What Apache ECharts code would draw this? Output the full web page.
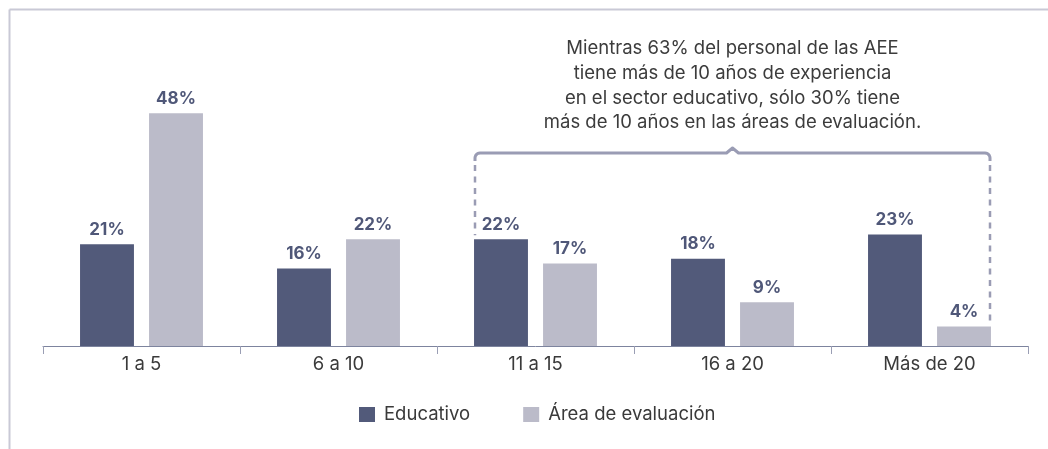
<!DOCTYPE html>
<html>
<head>
<meta charset="utf-8">
<script src="https://cdn.jsdelivr.net/npm/echarts@6/dist/echarts.min.js"></script>
<style>
html,body{margin:0;padding:0;background:#fff;}
#c{width:1048px;height:449px;}
</style>
</head>
<body>
<div id="c"></div>
<script>
const categories = ["1 a 5", "6 a 10", "11 a 15", "16 a 20", "Más de 20"];
const educativo = [21, 16, 22, 18, 23];
const areaEvaluacion = [48, 22, 17, 9, 4];
const seriesNames = ["Educativo", "Área de evaluación"];
const noteLines = [
  "Mientras 63% del personal de las AEE",
  "tiene más de 10 años de experiencia",
  "en el sector educativo, sólo 30% tiene",
  "más de 10 años en las áreas de evaluación."
];
const braceFrom = 2; // category index where the brace starts (Educativo bar)
const braceTo = 4;   // category index where the brace ends (Área bar)

const FONT = "Inter";
const chart = echarts.init(document.getElementById('c'), null, {renderer: 'canvas'});

const labelCfg = {
  show: true, position: 'top', distance: 6,
  formatter: '{c}%', fontFamily: FONT, fontWeight: 'bold', fontSize: 17, color: '#4f5778'
};

chart.setOption({
  animation: false,
  textStyle: {fontFamily: FONT},
  grid: {left: 43, right: 20, top: 55, bottom: 103},
  xAxis: {
    type: 'category', data: categories,
    axisLine: {lineStyle: {color: '#7d849e', width: 1}},
    axisTick: {show: true, length: 8, lineStyle: {color: '#9a9eb4'}},
    axisLabel: {fontFamily: FONT, fontSize: 18.5, color: '#3a3a3a', margin: 9}
  },
  yAxis: {type: 'value', min: 0, max: 60, show: false, splitLine: {show: false}},
  legend: {
    data: seriesNames, left: 354, top: 400,
    itemWidth: 16, itemHeight: 15, itemGap: 53,
    icon: 'rect',
    textStyle: {fontFamily: FONT, fontSize: 18.5, color: '#3a3a3a', padding: [0, 0, 0, 4]}
  },
  series: [
    {name: seriesNames[0], type: 'bar', data: educativo, barGap: '28%', barCategoryGap: '37.6%',
     itemStyle: {color: '#525a7a'}, label: labelCfg},
    {name: seriesNames[1], type: 'bar', data: areaEvaluacion,
     itemStyle: {color: '#bbbbc9'}, label: labelCfg}
  ]
});

function corner(cx, cy, r, a0, a1) {
  const pts = [];
  for (let i = 0; i <= 6; i++) {
    const a = a0 + (a1 - a0) * i / 6;
    pts.push([cx + r * Math.cos(a), cy + r * Math.sin(a)]);
  }
  return pts;
}

function drawAnnotation() {
  const bars0 = chart.getModel().getSeriesByIndex(0).getData();
  const bars1 = chart.getModel().getSeriesByIndex(1).getData();
  const l0 = bars0.getItemLayout(braceFrom);
  const l1 = bars1.getItemLayout(braceTo);
  const xL = Math.round(l0.x) + 1;
  const xR = Math.round(l1.x + l1.width) - 1;
  const topL = l0.y + l0.height; // bar top (height is negative)
  const topR = l1.y + l1.height;
  const yB = 153;
  const xM = (xL + xR) / 2;
  const r = 5;
  const col = '#9a9cb4';
  let pts = [[xL, yB + r + 3]];
  pts = pts.concat(corner(xL + r, yB + r, r, Math.PI, 1.5 * Math.PI));
  pts.push([xM - 6, yB], [xM, yB - 5], [xM + 6, yB]);
  pts = pts.concat(corner(xR - r, yB + r, r, 1.5 * Math.PI, 2 * Math.PI));
  pts.push([xR, yB + r + 3]);
  const els = [
    {type: 'polyline', shape: {points: pts}, style: {stroke: col, lineWidth: 3, fill: null, lineJoin: 'round'}},
    {type: 'line', shape: {x1: xL, y1: yB + 12, x2: xL, y2: topL - 4},
     style: {stroke: col, lineWidth: 2.5, lineDash: [6, 5.5]}},
    {type: 'line', shape: {x1: xR, y1: yB + 12, x2: xR, y2: topR - 4},
     style: {stroke: col, lineWidth: 2.5, lineDash: [6, 5.5]}},
    {type: 'text', x: xM, y: 36,
     style: {text: noteLines.join('\n'), fontFamily: FONT, fontSize: 18.5, lineHeight: 24.8,
             fill: '#3c3c3c', align: 'center', verticalAlign: 'top'}},
    {type: 'line', shape: {x1: 9.5, y1: 9.5, x2: 1048, y2: 9.5}, style: {stroke: '#c9c9d6', lineWidth: 2}},
    {type: 'line', shape: {x1: 9.5, y1: 9.5, x2: 9.5, y2: 449}, style: {stroke: '#c9c9d6', lineWidth: 2}}
  ];
  chart.setOption({graphic: {elements: els}});
}
drawAnnotation();
</script>
</body>
</html>
